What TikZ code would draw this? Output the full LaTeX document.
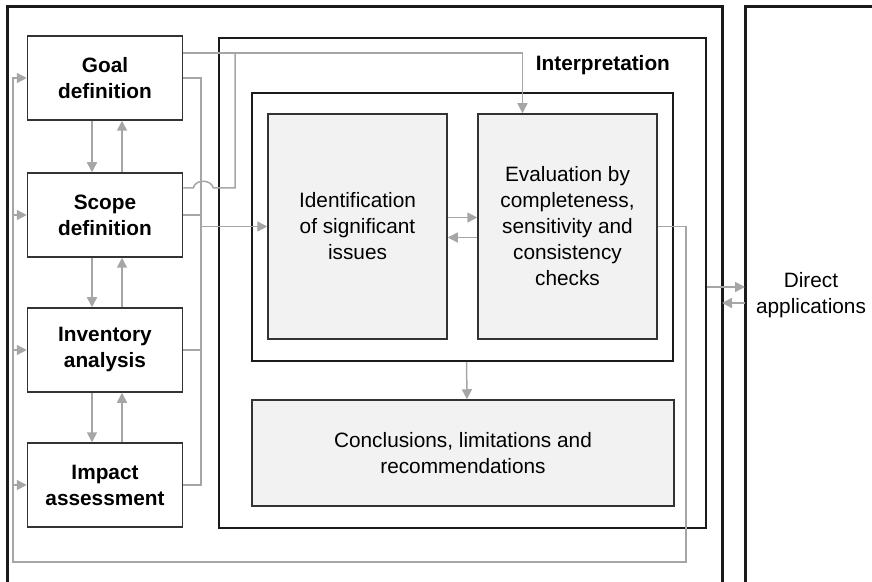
\documentclass[tikz,border=0pt]{standalone}
\usepackage{fontspec}
\setmainfont{Liberation Sans}
\usetikzlibrary{positioning,arrows.meta,calc}
\definecolor{lcaline}{RGB}{166,166,166}
\definecolor{lcabox}{RGB}{51,51,51}
\definecolor{lcafill}{RGB}{242,242,242}
\definecolor{lcaframe}{RGB}{26,26,26}

\begin{document}
\begin{tikzpicture}[x=0.5pt, y=-0.5pt, every node/.style={font=\fontsize{10.4}{13}\selectfont}]
  \tikzset{
    phase/.style={draw=lcabox, line width=0.75pt, minimum width=77.5pt, minimum height=42pt, inner sep=0pt, align=center, font=\fontsize{10.4}{13}\selectfont\bfseries},
    step box/.style={draw=lcabox, fill=lcafill, line width=0.75pt, inner sep=0pt, align=center},
    frame/.style={draw=lcaframe, line width=1.5pt},
    holder/.style={draw=lcaframe, line width=1pt, inner sep=0pt},
    wire/.style={draw=lcaline, line width=0.75pt},
    flow/.style={wire, -{Triangle[length=5pt,width=5pt]}}
  }
  \useasboundingbox (0,0) rectangle (872,582);

  % Frames
  \draw[frame] (7,582) -- (7,7) -- (722,7) -- (722,582);
  \draw[frame] (745,582) -- (745,7) -- (872,7);

  % Phases (left column)
  \node[phase] (goal)   at (105,78)  {Goal\\definition};
  \node[phase] (scope)  at (105,215) {Scope\\definition};
  \node[phase] (inv)    at (105,350) {Inventory\\analysis};
  \node[phase] (impact) at (105,485) {Impact\\assessment};

  % Interpretation
  \node[holder, minimum width=243.5pt, minimum height=245pt] (interp) at (462.5,283) {};
  \node[anchor=east, font=\fontsize{10.4}{13}\selectfont\bfseries] (interplabel) at (677,65) {Interpretation};
  \node[holder, minimum width=210.5pt, minimum height=134pt] (inner) at (462.5,227) {};
  \node[step box, minimum width=89.5pt, minimum height=112.5pt] (ident) at (357.5,226.5) {Identification\\of significant\\issues};
  \node[step box, minimum width=89.5pt, minimum height=112.5pt] (eval) at (567.5,226.5) {Evaluation by\\completeness,\\sensitivity and\\consistency\\checks};
  \node[step box, minimum width=211pt, minimum height=53pt] (concl) at (463,453) {Conclusions, limitations and\\recommendations};

  \node[align=center] (app) at (811,295) {Direct\\applications};

  % Helper points
  \coordinate (busx)    at (201,0);
  \coordinate (topjoin) at (235,53);
  \coordinate (loopR)   at (686,562);
  \coordinate (loopL)   at (13,562);
  \coordinate (outerR)  at (722,303);
  \coordinate (appL)    at (745,287);
  \coordinate (appR)    at (745,303);

  % Between phases
  \foreach \a/\b in {goal/scope, scope/inv, inv/impact} {
    \draw[flow] ($(\a.south)+(-13,0)$) -- ($(\b.north)+(-13,0)$);
    \draw[flow] ($(\b.north)+(17,0)$) -- ($(\a.south)+(17,0)$);
  }

  % To interpretation
  \draw[flow] ($(goal.east)+(0,-25)$) -| ($(eval.north)+(-45,0)$);
  \draw[wire] ($(scope.east)+(0,-27)$) -- ++(10,0) .. controls +(2,-9) and +(-2,-9) .. ++(20,0) -| (topjoin);
  \draw[wire] (goal.east) -| (busx |- impact.east) -- (impact.east);
  \draw[wire] (scope.east) -- (scope.east -| busx);
  \draw[wire] (inv.east) -- (inv.east -| busx);
  \draw[flow] (busx |- ident.west) -- (ident.west);

  % Inside interpretation
  \draw[flow] ($(ident.east)+(0,-9)$) -- ($(eval.west)+(0,-9)$);
  \draw[flow] ($(eval.west)+(0,11)$) -- ($(ident.east)+(0,11)$);
  \draw[flow] ($(inner.south)+(4,0)$) -- ($(concl.north)+(4,0)$);

  % Feedback loop
  \draw[flow] (eval.east) -| (loopR) -- (loopL) |- (goal.west);
  \foreach \n in {scope, inv, impact}
    \draw[flow] (loopL |- \n.west) -- (\n.west);

  % Direct applications
  \draw[flow] (interp.east |- appL) -- (appL);
  \draw[flow] (appR) -- (outerR);
\end{tikzpicture}
\end{document}
